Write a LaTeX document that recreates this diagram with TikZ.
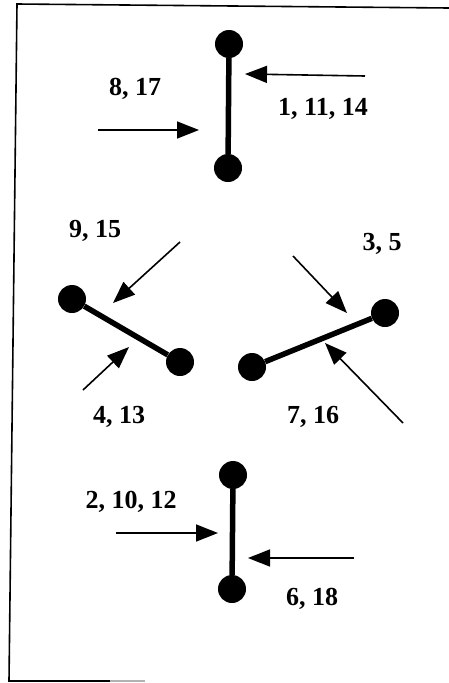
\documentclass[tikz,border=0pt]{standalone}
\usepackage{fontspec}
\setmainfont{Liberation Serif}
\usetikzlibrary{arrows.meta}
\begin{document}
\begin{tikzpicture}[x=1pt,y=-1pt,
  dot/.style={circle,fill=black,inner sep=0pt,minimum size=28pt},
  rod/.style={line width=5.5pt},
  push/.style={line width=1.6pt,-{Triangle[length=22pt,width=17pt]}},
  lbl/.style={font=\fontsize{26}{26}\selectfont\bfseries,anchor=base,inner sep=0pt},
  frame/.style={line width=1.6pt}]
\useasboundingbox (0,0) rectangle (449,683);
% frame
\draw[frame] (449,8) -- (17,4) -- (9,681) -- (110,681);
\draw[frame,gray!60] (110,681) -- (145,681);
% top dumbbell
\node[dot] (t1) at (229,44) {};
\node[dot] (t2) at (228,168) {};
\draw[rod] (t1) -- (t2);
% left dumbbell
\node[dot] (l1) at (72,299) {};
\node[dot] (l2) at (180,362) {};
\draw[rod] (l1) -- (l2);
% right dumbbell
\node[dot] (r1) at (252,367) {};
\node[dot] (r2) at (385,313) {};
\draw[rod] (r1) -- (r2);
% bottom dumbbell
\node[dot] (b1) at (233,475) {};
\node[dot] (b2) at (232,589) {};
\draw[rod] (b1) -- (b2);
% arrows
\coordinate (a1s) at (365,76);  \coordinate (a1e) at (245,74);
\coordinate (a2s) at (98,130);  \coordinate (a2e) at (199,130);
\coordinate (a3s) at (180,242); \coordinate (a3e) at (113,303);
\coordinate (a4s) at (293,256); \coordinate (a4e) at (347,313);
\coordinate (a5s) at (83,390);  \coordinate (a5e) at (129,347);
\coordinate (a6s) at (403,423); \coordinate (a6e) at (325,343);
\coordinate (a7s) at (116,533); \coordinate (a7e) at (218,533);
\coordinate (a8s) at (354,558); \coordinate (a8e) at (248,558);
\foreach \i in {1,...,8} {\draw[push] (a\i s) -- (a\i e);}
% labels
\node[lbl] (L1) at (323,115) {1, 11, 14};
\node[lbl] (L2) at (135,95) {8, 17};
\node[lbl] (L3) at (95,237) {9, 15};
\node[lbl] (L4) at (382,250) {3, 5};
\node[lbl] (L5) at (119,423) {4, 13};
\node[lbl] (L6) at (313,423) {7, 16};
\node[lbl] (L7) at (131,508) {2, 10, 12};
\node[lbl] (L8) at (312,605) {6, 18};
\end{tikzpicture}
\end{document}
